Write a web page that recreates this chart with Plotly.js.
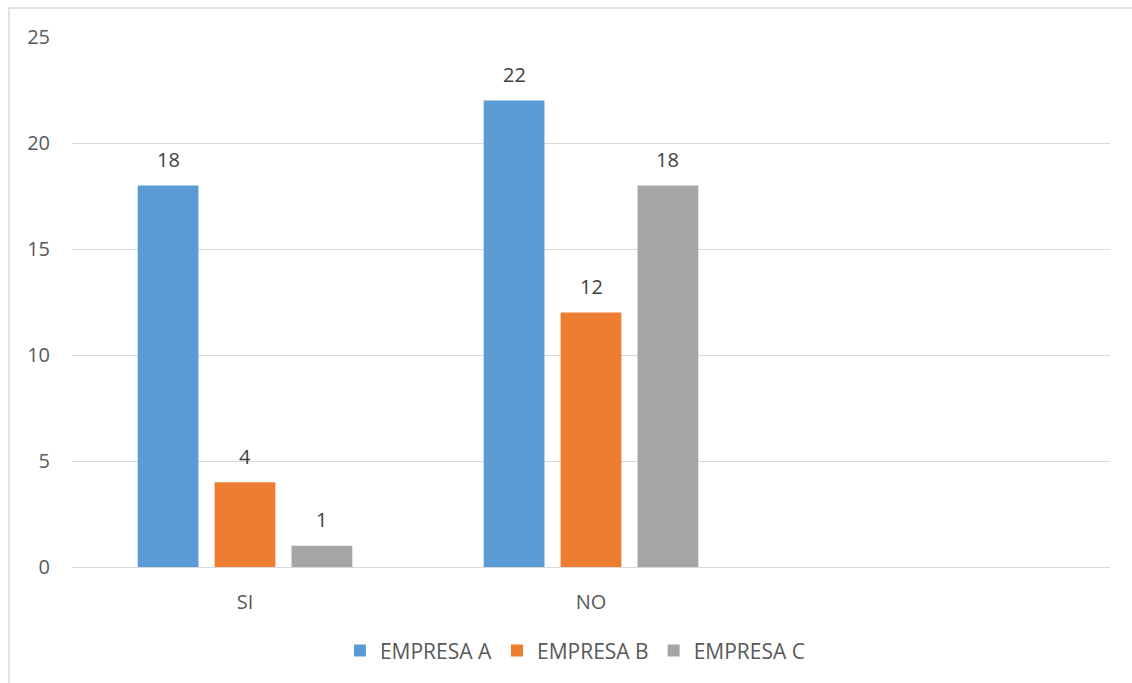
<!DOCTYPE html>
<html>
<head>
<meta charset="utf-8">
<script src="https://cdn.plot.ly/plotly-3.0.1.min.js"></script>
<style>html,body{margin:0;padding:0;background:#fff;}#chart{width:1132px;height:683px;}</style>
</head>
<body>
<div id="chart"></div>
<script>
const categories = ['SI', 'NO'];
const seriesNames = ['EMPRESA A', 'EMPRESA B', 'EMPRESA C'];
const empresaA = [18, 22];
const empresaB = [4, 12];
const empresaC = [1, 18];
const yTicks = [0, 5, 10, 15, 20, 25];

const colors = ['#5b9bd5', '#ed7d31', '#a5a5a5'];
const seriesValues = [empresaA, empresaB, empresaC];
const FONT = '"Open Sans", "Noto Sans", "Liberation Sans", sans-serif';
const FS = 20;

const traces = seriesValues.map((vals, i) => ({
  type: 'bar',
  name: seriesNames[i],
  x: categories,
  y: vals,
  marker: {color: colors[i]},
  hoverinfo: 'x+y+name'
}));

const slot = (1 - 0.333) / 3;
const annotations = [];
seriesValues.forEach((vals, i) => {
  vals.forEach((v, j) => {
    annotations.push({
      x: j + (i - 1) * slot, xref: 'x',
      y: v, yref: 'y',
      text: String(v), showarrow: false,
      yanchor: 'middle', yshift: 26,
      font: {family: FONT, size: FS, color: '#404040'}
    });
  });
});

const layout = {
  width: 1132, height: 683,
  margin: {l: 72, r: 22, t: 37, b: 116},
  paper_bgcolor: '#ffffff', plot_bgcolor: '#ffffff',
  font: {family: FONT, size: FS, color: '#595959'},
  barmode: 'group', bargap: 0.333, bargroupgap: 0.21,
  showlegend: true,
  legend: {orientation: 'h', x: 0.485, xanchor: 'center', y: -0.158, yanchor: 'middle',
           font: {family: FONT, size: 21, color: '#595959'}, traceorder: 'normal'},
  xaxis: {type: 'category', range: [-0.5, 2.5], showgrid: false, zeroline: false,
          showline: true, linecolor: '#d9d9d9', linewidth: 1, ticks: '', ticklabelstandoff: 17,
          tickfont: {family: FONT, size: FS, color: '#595959'}, fixedrange: true},
  yaxis: {range: [0, 25], tickvals: yTicks, showgrid: true, gridcolor: '#d9d9d9', gridwidth: 1,
          zeroline: false, showline: false, ticks: '', ticklabelstandoff: 21,
          tickfont: {family: FONT, size: FS, color: '#595959'}, fixedrange: true},
  annotations: annotations,
  shapes: [{type: 'rect', xref: 'paper', yref: 'paper', x0: -0.0607, x1: 1.2, y0: -0.4, y1: 1.0547,
            line: {color: '#d9d9d9', width: 1.5}, fillcolor: 'rgba(0,0,0,0)', layer: 'below'}]
};

Plotly.newPlot('chart', traces, layout, {displayModeBar: false, staticPlot: true});
</script>
</body>
</html>
